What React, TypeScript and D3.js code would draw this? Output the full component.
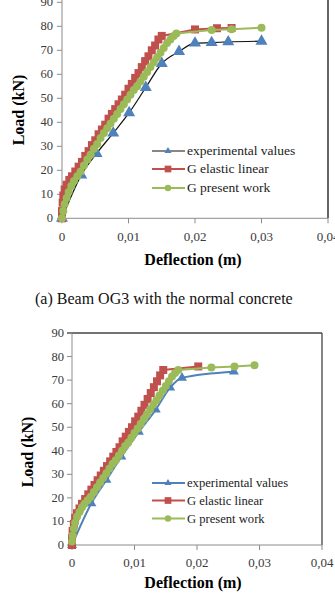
import React from "react";
import * as d3 from "d3";

const deflectionTicks = [0, 0.01, 0.02, 0.03, 0.04];
const deflectionLabels = ["0", "0,01", "0,02", "0,03", "0,04"];
const loadTicks = [0, 10, 20, 30, 40, 50, 60, 70, 80, 90];
const seriesNames = ["experimental values", "G elastic linear", "G present work"];

// (a) beam OG3, normal concrete
const og3ExpDefl = [0, 0.0029, 0.0052, 0.0077, 0.0101, 0.0126, 0.015, 0.0176, 0.02, 0.0225, 0.025, 0.03];
const og3ExpLoad = [0, 18, 27, 35.5, 44, 54.5, 64.5, 69.5, 73, 73.2, 73.5, 73.8];

const og3LinDefl = [0, 0, 0.0001, 0.0002, 0.0004, 0.0007, 0.0011, 0.0015, 0.002, 0.0025, 0.003, 0.0035, 0.004, 0.0045, 0.005, 0.0055, 0.006, 0.0065, 0.007, 0.0075, 0.008, 0.0085, 0.009, 0.0095, 0.01, 0.0105, 0.011, 0.0115, 0.012, 0.0125, 0.013, 0.0135, 0.014, 0.0145, 0.015, 0.02, 0.0233, 0.0255];
const og3LinLoad = [0, 3, 6.5, 9.5, 12, 14, 16, 17.5, 19.5, 21.5, 23.5, 26, 28, 30.5, 32.5, 35, 37, 39, 41.5, 43.5, 45.5, 47.5, 49.5, 51.5, 54, 56, 58.5, 60.5, 63, 65.5, 67.5, 70, 72, 74.5, 76, 78.7, 79.2, 79.3];

const og3PresDefl = [0, 0.0002, 0.0004, 0.0007, 0.001, 0.0014, 0.0018, 0.0023, 0.0028, 0.0033, 0.0038, 0.0043, 0.0048, 0.0053, 0.0058, 0.0063, 0.0068, 0.0073, 0.0078, 0.0083, 0.0088, 0.0093, 0.0098, 0.0103, 0.0108, 0.0113, 0.0118, 0.0123, 0.0128, 0.0133, 0.0138, 0.0143, 0.0148, 0.0153, 0.0158, 0.0163, 0.0168, 0.0172, 0.0225, 0.0255, 0.03];
const og3PresLoad = [0, 3, 6, 8.5, 11, 13.5, 15.5, 17.5, 19.5, 22, 24.5, 26.5, 29, 31, 33.5, 35.5, 37.5, 39.5, 41.5, 43.5, 45.5, 47.5, 49.5, 51.5, 53.5, 55, 57, 59, 61, 63, 65, 67, 69, 71, 73, 74.5, 76, 77, 78.5, 78.8, 79.4];

// (b) second beam
const bExpDefl = [0, 0.0031, 0.0055, 0.0079, 0.0107, 0.0134, 0.0157, 0.0176, 0.0259];
const bExpLoad = [0, 17.7, 27.6, 37.5, 48, 57.5, 66.8, 71, 73.6];

const bLinDefl = [0, 0, 0.0001, 0.0003, 0.0005, 0.0008, 0.0012, 0.0016, 0.0021, 0.0026, 0.0031, 0.0036, 0.0041, 0.0046, 0.0051, 0.0056, 0.0061, 0.0066, 0.0071, 0.0076, 0.0081, 0.0086, 0.0091, 0.0096, 0.0101, 0.0106, 0.0111, 0.0116, 0.0121, 0.0126, 0.0131, 0.0136, 0.0141, 0.0146, 0.0202];
const bLinLoad = [0, 3, 6, 9, 11.5, 13.5, 15.5, 17.5, 19.5, 21.5, 23.5, 25.5, 27.5, 29.5, 31.5, 33.5, 35.5, 37.5, 39.5, 41.5, 44, 46, 48, 50, 52.5, 54.5, 57, 59.5, 62, 64.5, 67, 69.5, 72, 74.3, 75.8];

const bPresDefl = [0, 0.0001, 0.0003, 0.0005, 0.0008, 0.0012, 0.0016, 0.002, 0.0025, 0.003, 0.0035, 0.004, 0.0045, 0.005, 0.0055, 0.006, 0.0065, 0.007, 0.0075, 0.008, 0.0085, 0.009, 0.0095, 0.01, 0.0105, 0.011, 0.0115, 0.012, 0.0125, 0.013, 0.0135, 0.014, 0.0145, 0.015, 0.0155, 0.016, 0.0165, 0.017, 0.0223, 0.026, 0.0292];
const bPresLoad = [1.5, 4, 7, 9.5, 12, 14, 16, 17.5, 19, 20.5, 22.5, 24.5, 26.5, 28.5, 30.5, 32.5, 34.5, 36, 38, 40, 42, 43.5, 45.5, 47.5, 49.5, 51.5, 53.5, 55.5, 57.5, 59.5, 61.5, 63.5, 65.5, 67.5, 69.5, 71.5, 73, 74.3, 75.4, 75.8, 76.3];

const BLUE = "#4f81bd";
const RED = "#c0504d";
const GREEN = "#9bbb59";
const FONT = "'Liberation Serif', 'Times New Roman', serif";

const zip = (a: number[], b: number[]): [number, number][] => a.map((v, i) => [v, b[i]]);

type PanelProps = {
  left: number; right: number; top: number; bottom: number;
  expStroke: string; expWidth: number; triSide: number;
  yLabelX: number; yTitleX: number; yTitleY: number;
  xLabelY: number; xTitleY: number;
  legendY: number[]; legendFont: number;
  frameTop: boolean;
  exp: [number, number][]; lin: [number, number][]; pres: [number, number][];
};

function Panel(p: PanelProps) {
  const x = d3.scaleLinear().domain([0, 0.04]).range([p.left, p.right]);
  const y = d3.scaleLinear().domain([0, 90]).range([p.bottom, p.top]);
  const line = d3.line<[number, number]>().x(d => x(d[0])).y(d => y(d[1]));
  const smooth = d3.line<[number, number]>().x(d => x(d[0])).y(d => y(d[1])).curve(d3.curveMonotoneX);
  const tri = d3.symbol(d3.symbolTriangle, (p.triSide * p.triSide * Math.sqrt(3)) / 4)()!;
  const sq = d3.symbol(d3.symbolSquare, 64)()!;
  const circ = d3.symbol(d3.symbolCircle, 50)()!;
  const legTri = d3.symbol(d3.symbolTriangle, 22)()!;
  const legSq = d3.symbol(d3.symbolSquare, 45)()!;
  const legCirc = d3.symbol(d3.symbolCircle, 34)()!;

  const legX0 = 152, legX1 = 185, legMark = 168, legText = 187;
  const legendMarks = [legTri, legSq, legCirc];
  const legendCols = [BLUE, RED, GREEN];
  const legendLines = [p.expStroke, RED, GREEN];

  return (
    <g>
      {/* frame */}
      <line x1={p.right} x2={p.right} y1={p.frameTop ? p.top : 0} y2={p.bottom} stroke={p.frameTop ? "#444" : "#111"} strokeWidth={1.3} />
      {p.frameTop && <line x1={p.left - 5} x2={p.right} y1={p.top} y2={p.top} stroke="#444" strokeWidth={1.3} />}
      <line x1={p.left} x2={p.left} y1={p.frameTop ? p.top : 0} y2={p.bottom} stroke="#8c8c8c" />
      <line x1={p.left} x2={p.right} y1={p.bottom} y2={p.bottom} stroke="#8c8c8c" />
      {loadTicks.map(t => (
        <g key={"y" + t}>
          <line x1={p.left - 5} x2={p.left} y1={y(t)} y2={y(t)} stroke="#8c8c8c" />
          <text x={p.yLabelX} y={y(t) + 4} textAnchor="end" fontFamily={FONT} fontSize={12.5} fill="#3a3a3a">{t}</text>
        </g>
      ))}
      {deflectionTicks.map((t, i) => (
        <g key={"x" + t}>
          <line x1={x(t)} x2={x(t)} y1={p.bottom} y2={p.bottom + 5} stroke="#8c8c8c" />
          <text x={x(t)} y={p.xLabelY} textAnchor="middle" fontFamily={FONT} fontSize={13} fill="#3a3a3a">{deflectionLabels[i]}</text>
        </g>
      ))}
      <text x={193} y={p.xTitleY} textAnchor="middle" fontFamily={FONT} fontSize={16} fontWeight="bold">Deflection (m)</text>
      <text transform={`translate(${p.yTitleX},${p.yTitleY}) rotate(-90)`} textAnchor="middle" fontFamily={FONT} fontSize={16} fontWeight="bold">Load (kN)</text>

      {/* experimental */}
      <path d={smooth(p.exp)!} fill="none" stroke={p.expStroke} strokeWidth={p.expWidth} />
      {p.exp.map((d, i) => <path key={"e" + i} d={tri} transform={`translate(${x(d[0])},${y(d[1])})`} fill={BLUE} />)}
      {/* G elastic linear */}
      <path d={line(p.lin)!} fill="none" stroke={RED} strokeWidth={2} />
      {p.lin.map((d, i) => <path key={"l" + i} d={sq} transform={`translate(${x(d[0])},${y(d[1])})`} fill={RED} />)}
      {/* G present work */}
      <path d={line(p.pres)!} fill="none" stroke={GREEN} strokeWidth={2} />
      {p.pres.map((d, i) => <path key={"p" + i} d={circ} transform={`translate(${x(d[0])},${y(d[1])})`} fill={GREEN} />)}

      {/* legend */}
      {seriesNames.map((name, i) => (
        <g key={name}>
          <line x1={legX0} x2={legX1} y1={p.legendY[i]} y2={p.legendY[i]} stroke={legendLines[i]} strokeWidth={i === 0 ? p.expWidth : 2} />
          <path d={legendMarks[i]} transform={`translate(${legMark},${p.legendY[i]})`} fill={legendCols[i]} />
          <text x={legText} y={p.legendY[i] + 4} fontFamily={FONT} fontSize={p.legendFont} fill="#222">{name}</text>
        </g>
      ))}
    </g>
  );
}

export default function App() {
  return (
    <svg width={335} height={593} style={{ position: "absolute", left: 0, top: 0, background: "#fff" }}>
      <rect width={335} height={593} fill="#fff" />
      <Panel
        left={62} right={328} top={2.3} bottom={218.3}
        expStroke="#111" expWidth={1.2} triSide={12}
        yLabelX={53} yTitleX={24} yTitleY={110}
        xLabelY={241} xTitleY={265}
        legendY={[151, 169, 188]} legendFont={13.5}
        frameTop={false}
        exp={zip(og3ExpDefl, og3ExpLoad)} lin={zip(og3LinDefl, og3LinLoad)} pres={zip(og3PresDefl, og3PresLoad)}
      />
      <text x={35} y={304} fontFamily={FONT} fontSize={16} fill="#111">(a)  Beam OG3 with the normal concrete</text>
      <Panel
        left={72} right={322} top={333} bottom={545}
        expStroke={BLUE} expWidth={2} triSide={10}
        yLabelX={64} yTitleX={33} yTitleY={452}
        xLabelY={567} xTitleY={588}
        legendY={[483, 500.5, 518.5]} legendFont={12.6}
        frameTop={true}
        exp={zip(bExpDefl, bExpLoad)} lin={zip(bLinDefl, bLinLoad)} pres={zip(bPresDefl, bPresLoad)}
      />
    </svg>
  );
}
